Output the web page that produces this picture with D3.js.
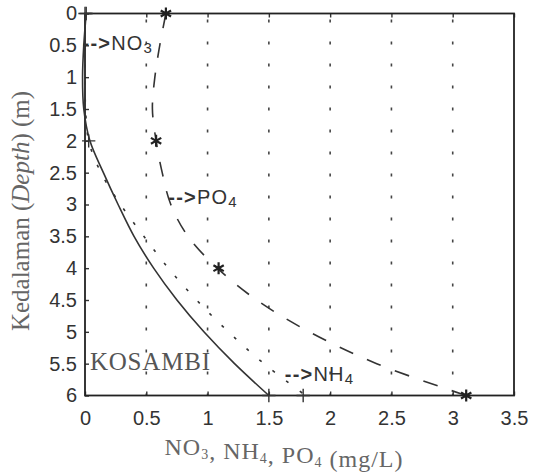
<!DOCTYPE html>
<html lang="en">
<head>
  <meta charset="utf-8">
  <title>KOSAMBI depth profile</title>
  <script src="https://d3js.org/d3.v7.min.js"></script>
  <style>
    body { margin: 0; background: #fff; }
    svg { display: block; }
  </style>
</head>
<body>
  <svg width="536" height="474"></svg>
  <script>
    // depth (m) of the fitted curves and the measured points
    const depths = [0, 0.5, 1, 1.5, 2, 2.5, 3, 3.5, 4, 4.5, 5, 5.5, 6];
    const no3 = [0.01, -0.01, -0.02, -0.01, 0.04, 0.15, 0.27, 0.40, 0.56, 0.75, 0.97, 1.22, 1.5];
    const nh4 = [0.0, 0.0, 0.0, 0.005, 0.03, 0.13, 0.29, 0.48, 0.68, 0.91, 1.17, 1.46, 1.8];
    const po4 = [0.66, 0.61, 0.57, 0.55, 0.58, 0.63, 0.70, 0.84, 1.08, 1.40, 1.83, 2.38, 3.11];

    const no3Obs = [[0.01, 0], [0.03, 2], [1.5, 6]];
    const nh4Obs = [[0.0, 0], [1.78, 6]];
    const po4Obs = [[0.66, 0], [0.58, 2], [1.09, 4], [3.11, 6]];

    const xTicks = [0, 0.5, 1, 1.5, 2, 2.5, 3, 3.5];
    const yTicks = [0, 0.5, 1, 1.5, 2, 2.5, 3, 3.5, 4, 4.5, 5, 5.5, 6];

    const svg = d3.select("svg");
    const x = d3.scaleLinear().domain([0, 3.5]).range([85, 514]);
    const y = d3.scaleLinear().domain([0, 6]).range([13.5, 395.5]);
    const sans = "'Liberation Sans', Arial, sans-serif";
    const serif = "'Liberation Serif', 'Times New Roman', serif";
    const fmt = d3.format("~g");

    // dotted vertical grid
    svg.append("g")
      .selectAll("line")
      .data(xTicks.filter(t => t > 0 && t < 3.5))
      .join("line")
      .attr("x1", d => x(d)).attr("x2", d => x(d))
      .attr("y1", y(0) + 6).attr("y2", y(6))
      .attr("stroke", "#444")
      .attr("stroke-width", 1.6)
      .attr("stroke-dasharray", "3,19");

    // axes with inward ticks
    svg.append("g")
      .attr("transform", `translate(${x(0)},0)`)
      .call(d3.axisLeft(y).tickValues(yTicks).tickFormat(fmt).tickSizeInner(-4).tickSizeOuter(0).tickPadding(8));
    svg.append("g")
      .attr("transform", `translate(0,${y(6)})`)
      .call(d3.axisBottom(x).tickValues(xTicks).tickFormat(fmt).tickSizeInner(-4).tickSizeOuter(0).tickPadding(15));
    svg.append("g")
      .attr("transform", `translate(0,${y(0)})`)
      .call(d3.axisTop(x).tickValues(xTicks).tickFormat("").tickSizeInner(-4).tickSizeOuter(0));

    svg.selectAll(".domain").remove();
    svg.selectAll(".tick line").attr("stroke", "#333").attr("stroke-width", 1.4);
    svg.selectAll(".tick text")
      .attr("font-family", sans)
      .attr("font-size", 20)
      .attr("fill", "#333");

    // frame
    svg.append("rect")
      .attr("x", x(0)).attr("y", y(0))
      .attr("width", x(3.5) - x(0)).attr("height", y(6) - y(0))
      .attr("fill", "none")
      .attr("stroke", "#222")
      .attr("stroke-width", 1.8);

    const line = d3.line()
      .x(d => x(d[0]))
      .y(d => y(d[1]))
      .curve(d3.curveCatmullRom);

    const series = [
      { vals: no3, dash: null },
      { vals: nh4, dash: "3,14" },
      { vals: po4, dash: "15,15" }
    ];

    svg.append("g")
      .selectAll("path")
      .data(series)
      .join("path")
      .attr("d", s => line(s.vals.map((v, i) => [v, depths[i]])))
      .attr("fill", "none")
      .attr("stroke", "#333")
      .attr("stroke-width", 1.6)
      .attr("stroke-dasharray", s => s.dash);

    const plus = d3.symbol(d3.symbolPlus, 60);
    const star = d3.symbol(d3.symbolAsterisk, 100);

    svg.append("g")
      .selectAll("path")
      .data(no3Obs.concat(nh4Obs))
      .join("path")
      .attr("transform", d => `translate(${x(d[0])},${y(d[1])})`)
      .attr("d", plus)
      .attr("fill", "none")
      .attr("stroke", "#333")
      .attr("stroke-width", 1.4);

    svg.append("g")
      .selectAll("path")
      .data(po4Obs)
      .join("path")
      .attr("transform", d => `translate(${x(d[0])},${y(d[1])})`)
      .attr("d", star)
      .attr("fill", "none")
      .attr("stroke", "#222")
      .attr("stroke-width", 2.2);

    // curve labels
    const notes = [
      { name: "NO", sub: "3", at: [-0.02, 0.47] },
      { name: "PO", sub: "4", at: [0.68, 2.88] },
      { name: "NH", sub: "4", at: [1.63, 5.66] }
    ];
    const nt = svg.append("g")
      .selectAll("text")
      .data(notes)
      .join("text")
      .attr("x", d => x(d.at[0]))
      .attr("y", d => y(d.at[1]) + 7)
      .attr("font-family", sans)
      .attr("font-size", 20)
      .attr("letter-spacing", 1.2)
      .attr("fill", "#333");
    nt.append("tspan").attr("font-weight", "bold").text("-->");
    nt.append("tspan").text(d => d.name);
    nt.append("tspan").attr("font-size", 15).attr("dy", 3).text(d => d.sub);

    svg.append("text")
      .attr("x", x(0.04))
      .attr("y", y(5.6))
      .attr("font-family", serif)
      .attr("font-size", 25)
      .attr("letter-spacing", 0.8)
      .attr("fill", "#555")
      .text("KOSAMBI");

    // axis titles
    const xt = svg.append("text")
      .attr("x", 284)
      .attr("y", 455)
      .attr("text-anchor", "middle")
      .attr("font-family", serif)
      .attr("font-size", 24)
      .attr("letter-spacing", 1)
      .attr("fill", "#666");
    [["NO", "3"], [", NH", "4"], [", PO", "4"]].forEach(p => {
      xt.append("tspan").text(p[0]);
      xt.append("tspan").attr("font-size", 14).attr("dy", 4).text(p[1]);
      xt.append("tspan").attr("dy", -4).text("");
    });
    xt.append("tspan").text(" (mg/L)");

    const yt = svg.append("text")
      .attr("transform", "translate(29,211) rotate(-90)")
      .attr("text-anchor", "middle")
      .attr("font-family", serif)
      .attr("font-size", 25)
      .attr("fill", "#666");
    yt.append("tspan").text("Kedalaman (");
    yt.append("tspan").attr("font-style", "italic").text("Depth");
    yt.append("tspan").text(") (m)");
  </script>
</body>
</html>
